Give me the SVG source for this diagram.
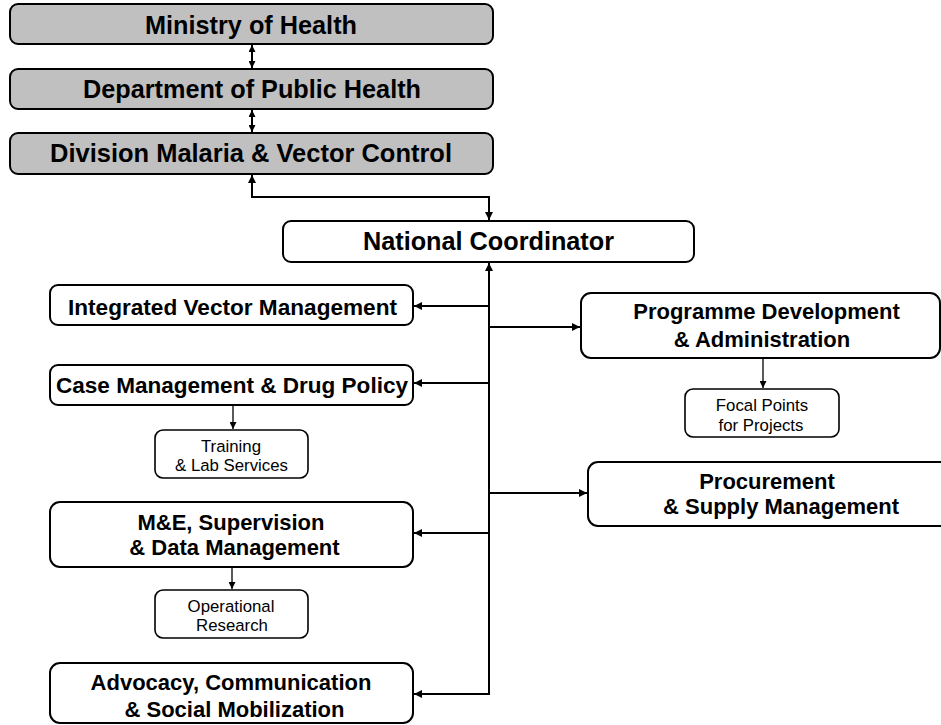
<svg xmlns="http://www.w3.org/2000/svg" width="941" height="725" viewBox="0 0 941 725">
<defs>
<style>
.box{fill:#fff;stroke:#000;stroke-width:2}
.gbox{fill:#c0c0c0;stroke:#000;stroke-width:2}
.sbox{fill:#fff;stroke:#000;stroke-width:1.6}
.t{font-family:"Liberation Sans",Arial,sans-serif;font-weight:bold;fill:#000;text-anchor:middle}
.big{font-size:25px}
.mid{font-size:22px}
.sm{font-family:"Liberation Sans",Arial,sans-serif;font-size:16.8px;fill:#000;text-anchor:middle}
.c{fill:none;stroke:#000;stroke-width:2}
.cs{fill:none;stroke:#000;stroke-width:1.3}
</style>
<marker id="ah" viewBox="0 0 10 10" refX="10" refY="5" markerWidth="10" markerHeight="8" markerUnits="userSpaceOnUse" orient="auto-start-reverse">
<path d="M0,0 L10,5 L0,10 Z" fill="#000"/>
</marker>
<marker id="ahs" viewBox="0 0 10 10" refX="10" refY="5" markerWidth="8" markerHeight="7" markerUnits="userSpaceOnUse" orient="auto-start-reverse">
<path d="M0,0 L10,5 L0,10 Z" fill="#000"/>
</marker>
</defs>

<g id="connectors">
<path class="c" d="M252,45 V68" marker-start="url(#ahs)" marker-end="url(#ahs)"/>
<path class="c" d="M252,110 V132" marker-start="url(#ahs)" marker-end="url(#ahs)"/>
<path class="c" d="M252,175 V197 H489 V220" marker-start="url(#ah)" marker-end="url(#ah)"/>
<path class="c" d="M489,695 V263" marker-end="url(#ah)"/>
<path class="c" d="M489,306 H414" marker-end="url(#ah)"/>
<path class="c" d="M489,383 H414" marker-end="url(#ah)"/>
<path class="c" d="M489,533 H414" marker-end="url(#ah)"/>
<path class="c" d="M489,694 H414" marker-end="url(#ah)"/>
<path class="c" d="M489,327 H580" marker-end="url(#ah)"/>
<path class="c" d="M489,493 H587" marker-end="url(#ah)"/>
<path class="cs" d="M233,406 V429" marker-end="url(#ahs)"/>
<path class="cs" d="M763,359 V388" marker-end="url(#ahs)"/>
<path class="cs" d="M232,568 V589" marker-end="url(#ahs)"/>
</g>

<g id="ministry">
<rect class="gbox" x="10" y="4" width="483" height="40" rx="8"/>
<text class="t big" x="251" y="34" textLength="212" lengthAdjust="spacingAndGlyphs">Ministry of Health</text>
</g>
<g id="department">
<rect class="gbox" x="10" y="69" width="483" height="40" rx="8"/>
<text class="t big" x="252" y="98" textLength="338" lengthAdjust="spacingAndGlyphs">Department of Public Health</text>
</g>
<g id="division">
<rect class="gbox" x="10" y="133" width="483" height="41" rx="8"/>
<text class="t big" x="251" y="162" textLength="402" lengthAdjust="spacingAndGlyphs">Division Malaria &amp; Vector Control</text>
</g>
<g id="national">
<rect class="box" x="283" y="221" width="411" height="41" rx="8"/>
<text class="t big" x="488.5" y="250" textLength="251" lengthAdjust="spacingAndGlyphs">National Coordinator</text>
</g>
<g id="ivm">
<rect class="box" x="50" y="285" width="363" height="40" rx="8"/>
<text class="t mid" x="232.5" y="315" textLength="329" lengthAdjust="spacingAndGlyphs">Integrated Vector Management</text>
</g>
<g id="casemgmt">
<rect class="box" x="50" y="365" width="363" height="40" rx="8"/>
<text class="t mid" x="232" y="393" textLength="352" lengthAdjust="spacingAndGlyphs">Case Management &amp; Drug Policy</text>
</g>
<g id="training">
<rect class="sbox" x="155" y="430" width="153" height="48" rx="8"/>
<text class="sm" x="231" y="452">Training</text>
<text class="sm" x="231.5" y="471">&amp; Lab Services</text>
</g>
<g id="programme">
<rect class="box" x="581" y="293" width="359" height="65" rx="10"/>
<text class="t mid" x="766.5" y="319">Programme Development</text>
<text class="t mid" x="762" y="347">&amp; Administration</text>
</g>
<g id="focal">
<rect class="sbox" x="685" y="389" width="154" height="48" rx="8"/>
<text class="sm" x="762" y="411">Focal Points</text>
<text class="sm" x="761" y="431">for Projects</text>
</g>
<g id="procurement">
<rect class="box" x="588" y="462" width="372" height="64" rx="10"/>
<text class="t mid" x="767" y="489">Procurement</text>
<text class="t mid" x="781" y="514">&amp; Supply Management</text>
</g>
<g id="me">
<rect class="box" x="50" y="502" width="363" height="65" rx="10"/>
<text class="t mid" x="231" y="530">M&amp;E, Supervision</text>
<text class="t mid" x="234.5" y="555">&amp; Data Management</text>
</g>
<g id="operational">
<rect class="sbox" x="155" y="590" width="153" height="48" rx="8"/>
<text class="sm" x="231" y="612">Operational</text>
<text class="sm" x="232" y="631">Research</text>
</g>
<g id="advocacy">
<rect class="box" x="50" y="663" width="363" height="60" rx="10"/>
<text class="t mid" x="231" y="690">Advocacy, Communication</text>
<text class="t mid" x="234.5" y="717">&amp; Social Mobilization</text>
</g>
</svg>
